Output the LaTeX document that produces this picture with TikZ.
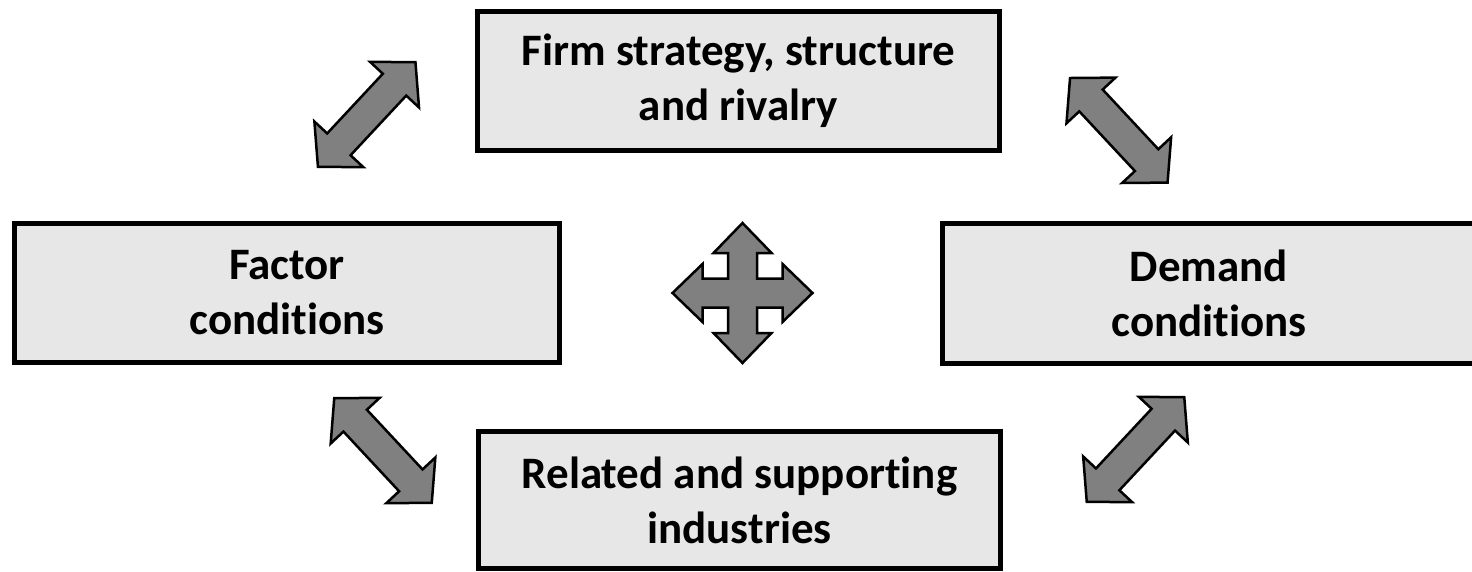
\documentclass[tikz,border=0pt]{standalone}
\usepackage{fontspec}
\setmainfont[Ligatures=NoCommon]{Carlito}
\usetikzlibrary{shapes.arrows}
\definecolor{boxfill}{HTML}{E7E7E7}
\definecolor{arrowfill}{HTML}{808080}
\tikzset{
  factor/.style={rectangle, draw=black, line width=5pt, fill=boxfill,
    align=center, inner sep=0pt,
    font=\fontsize{45}{55}\selectfont\bfseries},
  link/.style={double arrow, draw=black, line width=2.5pt, fill=arrowfill,
    minimum height=143pt, inner xsep=0pt, inner ysep=14.75pt,
    double arrow head extend=17.5pt, double arrow tip angle=95,
    line join=miter},
  crossarrow/.style={draw=black, line width=2.5pt, fill=arrowfill, line join=miter},
}
\begin{document}
\begin{tikzpicture}[x=1pt,y=-1pt]
\useasboundingbox (0,0) rectangle (1472,571);

% the four determinants
\node[factor, minimum width=522pt, minimum height=139pt] (firm) at (738.5,81)
  {Firm strategy, structure\\and rivalry};
\node[factor, minimum width=545pt, minimum height=139.5pt] (factor) at (287,292.75)
  {Factor\\conditions};
\node[factor, minimum width=533.5pt, minimum height=140pt] (demand) at (1209,293)
  {Demand\\conditions};
\node[factor, minimum width=522pt, minimum height=137pt] (related) at (739.5,500)
  {Related and supporting\\industries};

% two-way links between neighbouring determinants
\node[link, rotate=47]  (firmfactor)     at (366.7,114.5) {};
\node[link, rotate=-47] (firmdemand)     at (1118.8,130.3) {};
\node[link, rotate=-47] (factorrelated)  at (383,450.5) {};
\node[link, rotate=47]  (demandrelated)  at (1135.5,449.5) {};

% four-way arrow in the middle
\begin{scope}[shift={(742.5,293)}]
  \coordinate (hub) at (0,0);
  \draw[crossarrow] (70,0) -- (40,29) -- (40,14.5) -- (14.5,14.5) -- (14.5,40)
    -- (29,40) -- (0,70) -- (-29,40) -- (-14.5,40) -- (-14.5,14.5)
    -- (-40,14.5) -- (-40,29) -- (-70,0) -- (-40,-29) -- (-40,-14.5)
    -- (-14.5,-14.5) -- (-14.5,-40) -- (-29,-40) -- (0,-70) -- (29,-40)
    -- (14.5,-40) -- (14.5,-14.5) -- (40,-14.5) -- (40,-29) -- cycle;
\end{scope}
\end{tikzpicture}
\end{document}
